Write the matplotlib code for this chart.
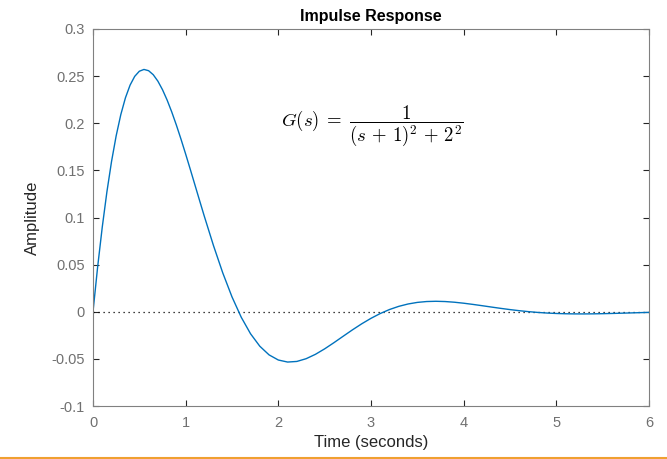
import matplotlib.pyplot as plt
from matplotlib.lines import Line2D

plt.rcParams['mathtext.fontset'] = 'cm'
plt.rcParams['font.family'] = ['Liberation Sans', 'DejaVu Sans']

# time samples (s) and impulse response amplitude
t = [0.0, 0.05, 0.1, 0.15, 0.2, 0.25, 0.3, 0.35, 0.4, 0.45, 0.5, 0.55, 0.6, 0.65,
     0.7, 0.75, 0.8, 0.85, 0.9, 0.95, 1.0, 1.05, 1.1, 1.15, 1.2, 1.3, 1.4, 1.5,
     1.6, 1.7, 1.8, 1.9, 2.0, 2.1, 2.2, 2.3, 2.4, 2.5, 2.6, 2.7, 2.8, 2.9, 3.0,
     3.1, 3.2, 3.3, 3.4, 3.5, 3.6, 3.7, 3.8, 3.9, 4.0, 4.1, 4.2, 4.3, 4.4, 4.5,
     4.6, 4.7, 4.8, 4.9, 5.0, 5.1, 5.2, 5.3, 5.4, 5.5, 5.6, 5.7, 5.8, 5.9, 6.0]
amp = [0.0, 0.04748, 0.08988, 0.12718, 0.15942, 0.18669, 0.20915, 0.22699,
       0.24043, 0.24974, 0.25519, 0.25709, 0.25576, 0.25151, 0.24468, 0.23559,
       0.22457, 0.21192, 0.19797, 0.18299, 0.16726, 0.15104, 0.13456, 0.11806,
       0.10172, 0.07025, 0.04130, 0.01574, -0.00589, -0.02334, -0.03657,
       -0.04576, -0.05121, -0.05337, -0.05272, -0.04981, -0.04519, -0.03936,
       -0.03281, -0.02597, -0.01919, -0.01278, -0.00696, -0.00187, 0.00238,
       0.00574, 0.00824, 0.00992, 0.01084, 0.01111, 0.01083, 0.01011, 0.00906,
       0.00779, 0.00641, 0.00498, 0.00359, 0.00229, 0.00112, 0.00011, -0.00072,
       -0.00137, -0.00183, -0.00213, -0.00228, -0.00230, -0.00222, -0.00204,
       -0.00181, -0.00154, -0.00125, -0.00096, -0.00067]

xticks = [0, 1, 2, 3, 4, 5, 6]
yticks = [-0.1, -0.05, 0, 0.05, 0.1, 0.15, 0.2, 0.25, 0.3]
ytick_labels = ["-0.1", "-0.05", "0", "0.05", "0.1", "0.15", "0.2", "0.25", "0.3"]

fig = plt.figure(figsize=(6.67, 4.59), dpi=100)
ax = fig.add_axes([93/667, 1 - 406/459, 556/667, 377/459])

ax.plot([0, 6], [0, 0], color="black", linestyle=(0, (1, 3)), linewidth=0.9)
ax.plot(t, amp, color="#0072BD", linewidth=1.0)

ax.set_xlim(0, 6)
ax.set_ylim(-0.1, 0.3)
ax.set_xticks(xticks)
ax.set_yticks(yticks)
ax.set_yticklabels(ytick_labels)
ax.tick_params(direction="in", top=True, right=True, length=4, width=0.8,
               colors="#262626", labelcolor="#707070", labelsize=10.5)
ax.tick_params(axis="x", pad=7)
ax.tick_params(axis="y", pad=6)
for sp in ax.spines.values():
    sp.set_color("#808080")
    sp.set_linewidth(0.8)

ax.set_title("Impulse Response", fontsize=11.5, fontweight="bold", pad=6)
ax.set_xlabel("Time (seconds)", fontsize=12, color="#262626", labelpad=4)
ax.set_ylabel("Amplitude", fontsize=12, color="#262626", labelpad=8)

ax.text(3.02, 0.198, r'$G(s)\;=\;\dfrac{1}{(s\,+\,1)^2\,+\,2^2}$', fontsize=13.5,
        ha="center", va="center")

fig.add_artist(Line2D([0, 1], [0.003, 0.003], color="#F0A030", linewidth=1.5))

fig.savefig("out.png", dpi=100)
